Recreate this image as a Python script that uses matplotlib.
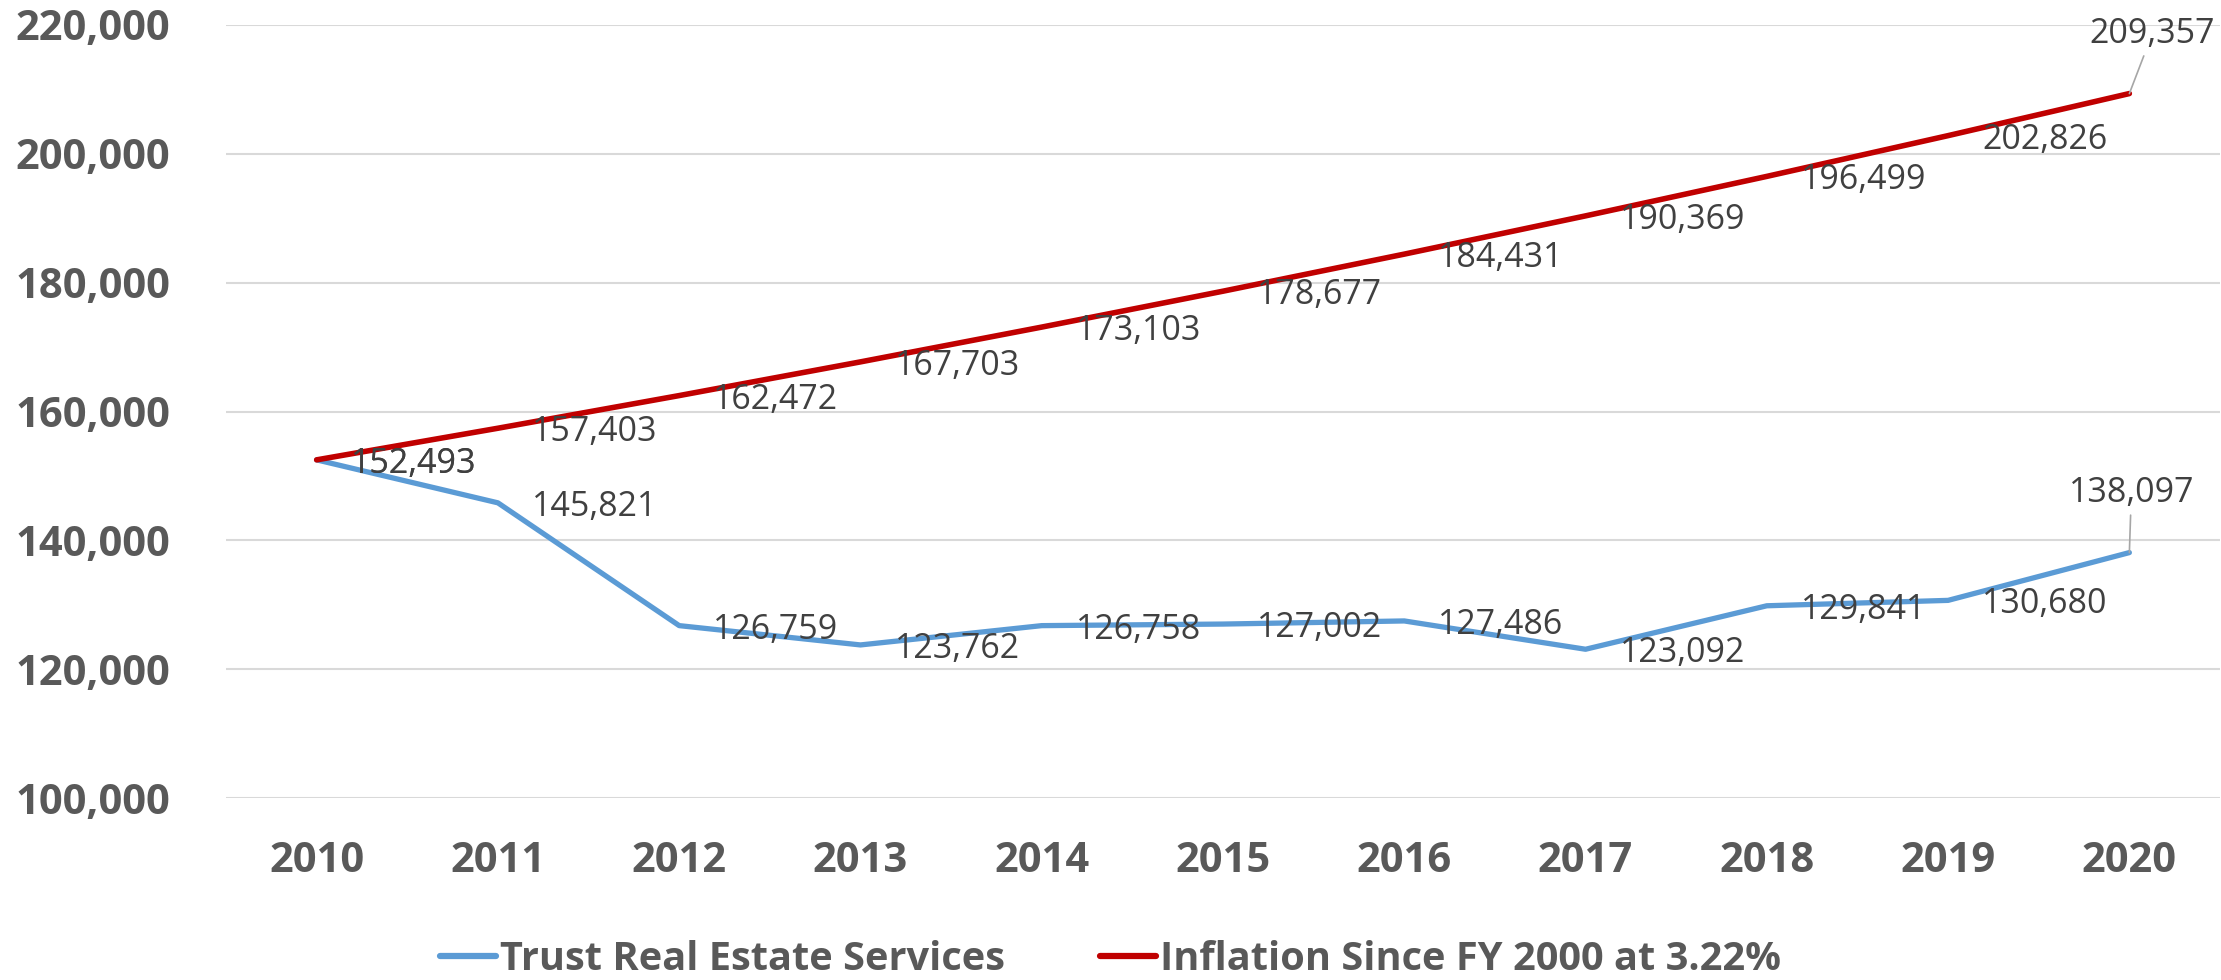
import matplotlib
matplotlib.use("Agg")
import matplotlib.pyplot as plt
from matplotlib.ticker import FuncFormatter

years = ["2010", "2011", "2012", "2013", "2014", "2015", "2016", "2017", "2018", "2019", "2020"]
trust_res = [152493, 145821, 126759, 123762, 126758, 127002, 127486, 123092, 129841, 130680, 138097]
inflation = [152493, 157403, 162472, 167703, 173103, 178677, 184431, 190369, 196499, 202826, 209357]
trust_label = "Trust Real Estate Services"
infl_label = "Inflation Since FY 2000 at 3.22%"

blue = "#5B9BD5"
red = "#C00000"
tick_col = "#595959"
lab_col = "#404040"

fig = plt.figure(figsize=(22.21, 9.8), dpi=100)
ax = fig.add_axes([226 / 2221, 1 - 798 / 980, (2220 - 226) / 2221, (798 - 25) / 980])

x = list(range(len(years)))
ax.plot(x, trust_res, color=blue, lw=3.8, solid_capstyle="round", label=trust_label, zorder=3)
ax.plot(x, inflation, color=red, lw=4.0, solid_capstyle="round", label=infl_label, zorder=3)

ax.set_xlim(-0.5, 10.5)
ax.set_ylim(100000, 220000)
ax.set_yticks(range(100000, 220001, 20000))
ax.yaxis.set_major_formatter(FuncFormatter(lambda v, p: "{:,.0f}".format(v)))
ax.set_xticks(x)
ax.set_xticklabels(years)

for s in ax.spines.values():
    s.set_visible(False)
ax.grid(axis="y", color="#D9D9D9", lw=1.5, zorder=0)
ax.tick_params(axis="both", length=0, labelcolor=tick_col)
ax.tick_params(axis="y", pad=40)
ax.tick_params(axis="x", pad=31)
for t in ax.get_xticklabels() + ax.get_yticklabels():
    t.set_fontfamily(["Open Sans", "DejaVu Sans"])
    t.set_fontweight("bold")
    t.set_fontsize(30)

lab_font = dict(fontfamily=["Open Sans", "DejaVu Sans"], fontsize=24.5, color=lab_col)

# data labels: right of each point, last point lifted with a leader line
for series in (trust_res, inflation):
    for i, v in enumerate(series):
        if i < len(series) - 1:
            ax.annotate("{:,}".format(v), (i, v), xytext=(34, -4), textcoords="offset pixels",
                        ha="left", va="center", zorder=4, **lab_font)

last = len(years) - 1
ax.annotate("{:,}".format(inflation[last]), (last, inflation[last]), xytext=(23, 60),
            textcoords="offset pixels", ha="center", va="center", zorder=4,
            arrowprops=dict(arrowstyle="-", color="#A6A6A6", lw=1.2, shrinkA=2, shrinkB=0),
            annotation_clip=False, **lab_font)
ax.annotate("{:,}".format(trust_res[last]), (last, trust_res[last]), xytext=(2, 60),
            textcoords="offset pixels", ha="center", va="center", zorder=4,
            arrowprops=dict(arrowstyle="-", color="#A6A6A6", lw=1.2, shrinkA=2, shrinkB=0),
            annotation_clip=False, **lab_font)

leg = fig.legend(loc="center", bbox_to_anchor=(0.5, 1 - 959 / 980), ncol=2, frameon=False,
                 handlelength=1.4, handletextpad=0.1, columnspacing=2.4,
                 prop=dict(family=["Open Sans", "DejaVu Sans"], weight="bold", size=28.6))
for t in leg.get_texts():
    t.set_color(tick_col)
for h in leg.legend_handles:
    h.set_linewidth(4.5)

fig.savefig("out.png", dpi=100)
